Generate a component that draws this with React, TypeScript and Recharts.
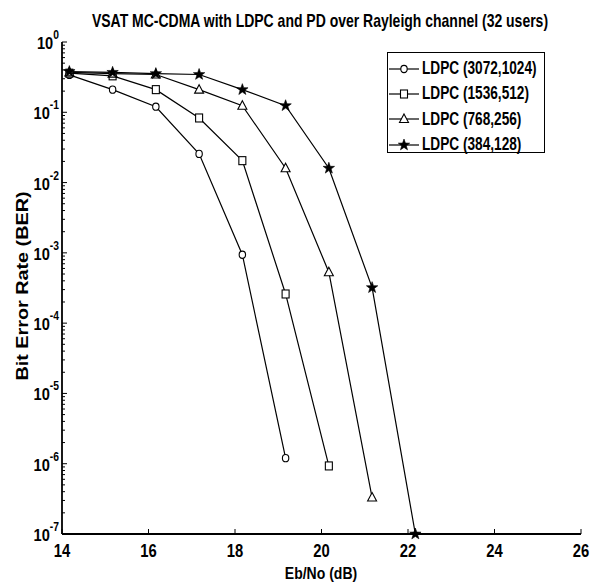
import React from 'react';
import { LineChart, Line, XAxis, YAxis, Legend } from 'recharts';

// Eb/No (dB) sample points and BER values
const ebnoA = [14.17, 15.17, 16.17, 17.17, 18.17, 19.17];
const berA = [0.34, 0.21, 0.12, 0.0256, 9.4e-4, 1.2e-6];

const ebnoB = [14.17, 15.17, 16.17, 17.17, 18.17, 19.17, 20.17];
const berB = [0.36, 0.33, 0.21, 0.083, 0.0205, 2.6e-4, 9.3e-7];

const ebnoC = [14.17, 15.17, 16.17, 17.17, 18.17, 19.17, 20.17, 21.17];
const berC = [0.37, 0.355, 0.345, 0.21, 0.124, 0.016, 5.3e-4, 3.3e-7];

const ebnoD = [14.17, 15.17, 16.17, 17.17, 18.17, 19.17, 20.17, 21.17, 22.17];
const berD = [0.38, 0.37, 0.355, 0.345, 0.21, 0.124, 0.016, 3.2e-4, 1e-7];

const seriesNames = ['LDPC (3072,1024)', 'LDPC (1536,512)', 'LDPC (768,256)', 'LDPC (384,128)'];
const markers = ['circle', 'square', 'triangle', 'star'];

const xTicks = [14, 16, 18, 20, 22, 24, 26];
const yExponents = [-7, -6, -5, -4, -3, -2, -1, 0];

const FONT = '"Liberation Sans", Arial, sans-serif';

const zip = (xs: number[], ys: number[]) => xs.map((x, i) => ({ x, y: ys[i] }));
const series = [zip(ebnoA, berA), zip(ebnoB, berB), zip(ebnoC, berC), zip(ebnoD, berD)];

// decade ticks plus the 2..9 minor ticks in between
const yTicks: number[] = [];
yExponents.forEach((e) => {
  yTicks.push(Math.pow(10, e));
  if (e < 0) {
    for (let m = 2; m <= 9; m++) yTicks.push(m * Math.pow(10, e));
  }
});

const isDecade = (v: number) => Math.abs(Math.log10(v) - Math.round(Math.log10(v))) < 1e-6;

const Marker = ({ kind, cx, cy }: { kind: string; cx: number; cy: number }) => {
  if (cx == null || cy == null) return null;
  if (kind === 'circle') {
    return <ellipse cx={cx} cy={cy} rx={3.2} ry={3.6} fill="#fff" stroke="#000" strokeWidth={1.1} />;
  }
  if (kind === 'square') {
    return <rect x={cx - 3.5} y={cy - 4} width={7} height={8} fill="#fff" stroke="#000" strokeWidth={1.1} />;
  }
  if (kind === 'triangle') {
    return (
      <polygon
        points={`${cx},${cy - 5} ${cx + 4.5},${cy + 3.5} ${cx - 4.5},${cy + 3.5}`}
        fill="#fff"
        stroke="#000"
        strokeWidth={1.1}
      />
    );
  }
  const pts: string[] = [];
  for (let i = 0; i < 10; i++) {
    const r = i % 2 === 0 ? 6 : 2.4;
    const a = -Math.PI / 2 + (i * Math.PI) / 5;
    pts.push(`${cx + r * Math.cos(a)},${cy + r * Math.sin(a)}`);
  }
  return <polygon points={pts.join(' ')} fill="#000" stroke="#000" strokeWidth={0.6} />;
};

const LeftTick = (props: any) => {
  const { x, y, payload } = props;
  const major = isDecade(payload.value);
  const exp = Math.round(Math.log10(payload.value));
  return (
    <g>
      <line x1={x} x2={x + (major ? 5 : 3)} y1={y} y2={y} stroke="#000" strokeWidth={1} />
      {major && (
        <text
          transform={`translate(${x - 3},${y + 7}) scale(0.86,1)`}
          textAnchor="end"
          fontFamily={FONT}
          fontWeight="bold"
          fontSize={17}
          fill="#000"
        >
          10
          <tspan dy={-10} fontSize={12}>{exp}</tspan>
        </text>
      )}
    </g>
  );
};

const RightTick = (props: any) => {
  const { x, y, payload } = props;
  const major = isDecade(payload.value);
  return <line x1={x} x2={x - (major ? 5 : 3)} y1={y} y2={y} stroke="#000" strokeWidth={1} />;
};

const BottomTick = (props: any) => {
  const { x, y, payload } = props;
  return (
    <g>
      <line x1={x} x2={x} y1={y} y2={y - 5} stroke="#000" strokeWidth={1} />
      <text
        transform={`translate(${x},${y + 23}) scale(0.8,1)`}
        textAnchor="middle"
        fontFamily={FONT}
        fontWeight="bold"
        fontSize={18.5}
        fill="#000"
      >
        {payload.value}
      </text>
    </g>
  );
};

const TopTick = (props: any) => {
  const { x, y } = props;
  return <line x1={x} x2={x} y1={y} y2={y + 5} stroke="#000" strokeWidth={1} />;
};

const LegendBox = () => (
  <div
    style={{
      width: 158,
      height: 101,
      border: '1.5px solid #000',
      background: '#fff',
      boxSizing: 'border-box',
      paddingTop: 3,
    }}
  >
    {seriesNames.map((name, i) => (
      <div key={name} style={{ display: 'flex', alignItems: 'center', height: 25.3 }}>
        <svg width={34} height={20} style={{ flex: 'none' }}>
          <line x1={1} x2={31} y1={10} y2={10} stroke="#000" strokeWidth={1.2} />
          <Marker kind={markers[i]} cx={16} cy={10} />
        </svg>
        <span
          style={{
            display: 'inline-block',
            fontFamily: FONT,
            fontWeight: 'bold',
            fontSize: 17.5,
            color: '#000',
            whiteSpace: 'nowrap',
            transform: 'scaleX(0.78)',
            transformOrigin: 'left center',
          }}
        >
          {name}
        </span>
      </div>
    ))}
  </div>
);

export default function App() {
  return (
    <div style={{ position: 'absolute', left: 0, top: 0, width: 598, height: 584, background: '#fff' }}>
      <LineChart width={598} height={584} margin={{ top: 42, right: 17, bottom: 0, left: 0 }}>
        <XAxis
          xAxisId="b"
          type="number"
          dataKey="x"
          domain={[14, 26]}
          ticks={xTicks}
          orientation="bottom"
          height={50}
          tickSize={0}
          tickMargin={0}
          tickLine={false}
          tick={<BottomTick />}
          axisLine={{ stroke: '#000', strokeWidth: 1.8 }}
          allowDataOverflow
        />
        <XAxis
          xAxisId="t"
          type="number"
          dataKey="x"
          domain={[14, 26]}
          ticks={xTicks}
          orientation="top"
          height={0}
          tickSize={0}
          tickMargin={0}
          tickLine={false}
          tick={<TopTick />}
          axisLine={{ stroke: '#000', strokeWidth: 1.8 }}
          allowDataOverflow
        />
        <YAxis
          yAxisId="l"
          type="number"
          scale="log"
          domain={[1e-7, 1]}
          ticks={yTicks}
          interval={0}
          width={62}
          tickSize={0}
          tickMargin={0}
          tickLine={false}
          tick={<LeftTick />}
          axisLine={{ stroke: '#000', strokeWidth: 1.8 }}
        />
        <YAxis
          yAxisId="r"
          orientation="right"
          type="number"
          scale="log"
          domain={[1e-7, 1]}
          ticks={yTicks}
          interval={0}
          width={0}
          tickSize={0}
          tickMargin={0}
          tickLine={false}
          tick={<RightTick />}
          axisLine={{ stroke: '#000', strokeWidth: 1.8 }}
        />
        <Legend
          layout="vertical"
          align="center"
          verticalAlign="middle"
          content={<LegendBox />}
          wrapperStyle={{ position: 'absolute', left: 387, top: 52, width: 158 }}
        />
        {series.map((data, i) => (
          <Line
            key={seriesNames[i]}
            name={seriesNames[i]}
            data={data}
            dataKey="y"
            xAxisId="b"
            yAxisId="l"
            type="linear"
            stroke="#000"
            strokeWidth={1.2}
            dot={(p: any) => <Marker key={`m-${i}-${p.index}`} kind={markers[i]} cx={p.cx} cy={p.cy} />}
            activeDot={false}
            isAnimationActive={false}
          />
        ))}
      </LineChart>
      <svg width={598} height={584} style={{ position: 'absolute', left: 0, top: 0, pointerEvents: 'none' }}>
        <text
          transform="translate(320,26.5) scale(0.8,1)"
          textAnchor="middle"
          fontFamily={FONT}
          fontWeight="bold"
          fontSize={17.5}
        >
          VSAT MC-CDMA with LDPC and PD over Rayleigh channel (32 users)
        </text>
        <text
          transform="translate(321,579) scale(0.85,1)"
          textAnchor="middle"
          fontFamily={FONT}
          fontWeight="bold"
          fontSize={16.5}
        >
          Eb/No (dB)
        </text>
        <text
          transform="translate(28,286) rotate(-90) scale(1.2,1)"
          textAnchor="middle"
          fontFamily={FONT}
          fontWeight="bold"
          fontSize={16.5}
        >
          Bit Error Rate (BER)
        </text>
      </svg>
    </div>
  );
}
